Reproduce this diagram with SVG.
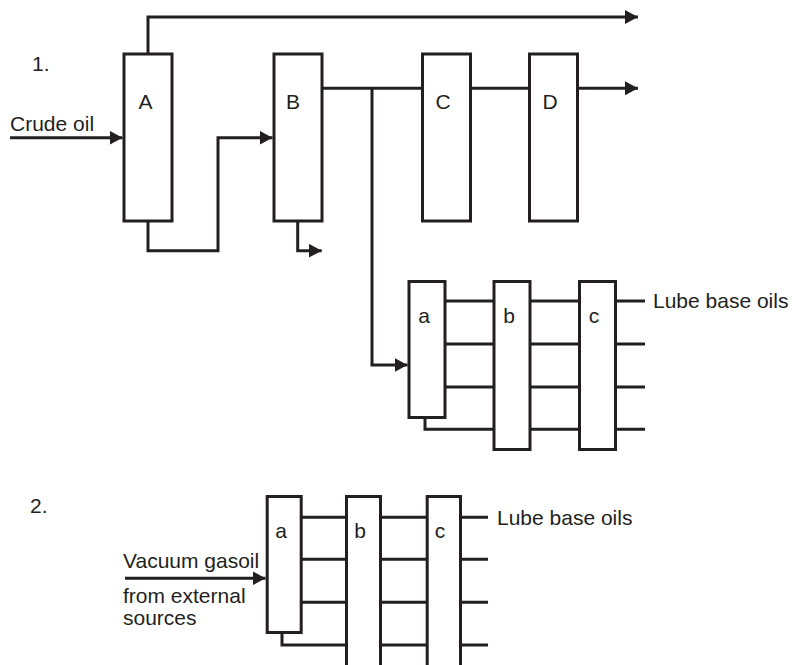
<svg xmlns="http://www.w3.org/2000/svg" width="792" height="665" viewBox="0 0 792 665">
<style>
.box{fill:#fff;stroke:#231f20;stroke-width:3}
.ln{fill:none;stroke:#231f20;stroke-width:3}
.arr{fill:none;stroke:#231f20;stroke-width:3;marker-end:url(#ah)}
text{font-family:"Liberation Sans",Arial,sans-serif;font-size:21px;fill:#231f20}
.c{text-anchor:middle}
</style>
<defs>
<marker id="ah" markerUnits="userSpaceOnUse" markerWidth="14" markerHeight="14" refX="13" refY="7" orient="auto">
<path d="M0,0 L13,7 L0,14 z" fill="#231f20"/>
</marker>
</defs>
<rect width="792" height="665" fill="#fff"/>
<text x="32" y="71">1.</text>
<text x="30" y="513">2.</text>
<g id="connectors">
<path class="arr" d="M148,54 V17 H638"/>
<path class="arr" d="M10,137.7 H122.5"/>
<path class="arr" d="M148,221 V250.7 H218 V137.7 H272.5"/>
<path class="ln" d="M322.5,88.3 H422.5"/>
<path class="arr" d="M372,88.3 V365 H407.5"/>
<path class="ln" d="M470.5,88.3 H529.5"/>
<path class="arr" d="M577.5,88.3 H638"/>
<path class="arr" d="M297.7,221 V250.7 H321.7"/>
<path class="ln" d="M445,301 H494 M445,344 H494 M445,387 H494 M425,417.5 V429.3 H494"/>
<path class="ln" d="M530,301 H579.5 M530,344 H579.5 M530,387 H579.5 M530,429.3 H579.5"/>
<path class="ln" d="M615.5,301 H645 M615.5,344 H645 M615.5,387 H645 M615.5,429.3 H645"/>
<path class="arr" d="M125,578.3 H265.5"/>
<path class="ln" d="M301.2,517.3 H346.5 M301.2,559.3 H346.5 M301.2,602.3 H346.5 M282,632.5 V645 H346.5"/>
<path class="ln" d="M380.5,517.3 H427.2 M380.5,559.3 H427.2 M380.5,602.3 H427.2 M380.5,645 H427.2"/>
<path class="ln" d="M460.5,517.3 H488 M460.5,559.3 H488 M460.5,602.3 H488 M460.5,645 H488"/>
</g>
<g id="A"><rect class="box" x="124" y="54" width="48" height="167"/><text class="c" x="145.5" y="109">A</text></g>
<g id="B"><rect class="box" x="274" y="54" width="48" height="167"/><text class="c" x="293" y="109">B</text></g>
<g id="C"><rect class="box" x="422.5" y="54" width="48" height="167"/><text class="c" x="443" y="109">C</text></g>
<g id="D"><rect class="box" x="529.5" y="54" width="48" height="167"/><text class="c" x="550" y="109">D</text></g>
<g id="a1"><rect class="box" x="409" y="281.5" width="36" height="136"/><text class="c" x="424" y="322.7">a</text></g>
<g id="b1"><rect class="box" x="494" y="281.5" width="36" height="168"/><text class="c" x="509" y="322.7">b</text></g>
<g id="c1"><rect class="box" x="579.5" y="281.5" width="36" height="168"/><text class="c" x="594" y="322.7">c</text></g>
<g id="a2"><rect class="box" x="267.2" y="496.5" width="34" height="136"/><text class="c" x="281" y="538">a</text></g>
<g id="b2"><rect class="box" x="346.5" y="496.5" width="34" height="172"/><text class="c" x="360" y="538">b</text></g>
<g id="c2"><rect class="box" x="427.2" y="496.5" width="33.3" height="172"/><text class="c" x="440" y="538">c</text></g>
<g id="labels">
<text x="10" y="131">Crude oil</text>
<text x="653" y="308">Lube base oils</text>
<text x="497" y="524.5">Lube base oils</text>
<text x="123" y="568">Vacuum gasoil</text>
<text x="123" y="603">from external</text>
<text x="123" y="625">sources</text>
</g>
</svg>
